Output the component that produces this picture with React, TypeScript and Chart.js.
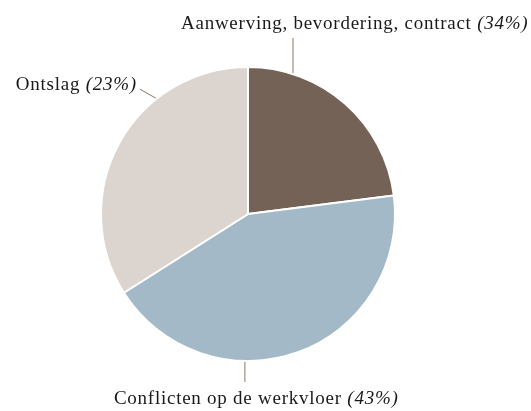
import React, { useEffect, useRef } from "react";
import { Chart, registerables } from "chart.js";

Chart.register(...registerables);

const categories = ["Aanwerving, bevordering, contract", "Conflicten op de werkvloer", "Ontslag"];
const shownPercents = ["(34%)", "(43%)", "(23%)"];
const sliceValues = [23, 43, 34];
const sliceColors = ["#756256", "#a4b9c7", "#dcd4ce"];

const FONT = '"Liberation Serif", "DejaVu Serif", serif';

const labelPlugin = {
  id: "calloutLabels",
  afterDraw(chart: any) {
    const ctx = chart.ctx;
    const meta = chart.getDatasetMeta(0);
    const arc = meta.data[0];
    if (!arc) return;
    const cx = arc.x;
    const cy = arc.y;
    const r = arc.outerRadius;
    const opts = chart.options.plugins.calloutLabels;
    ctx.save();
    ctx.strokeStyle = "#8a766a";
    ctx.lineWidth = 1;
    ctx.fillStyle = "#1a1a1a";
    ctx.textBaseline = "alphabetic";
    (ctx as any).letterSpacing = opts.spacing + "px";
    opts.items.forEach((c: any) => {
      const a = (c.angle * Math.PI) / 180;
      const sx = cx + (r + 1) * Math.sin(a);
      const sy = cy - (r + 1) * Math.cos(a);
      const ex = sx + c.dx;
      const ey = sy + c.dy;
      ctx.beginPath();
      ctx.moveTo(sx, sy);
      ctx.lineTo(ex, ey);
      ctx.stroke();
      const name = categories[c.index] + " ";
      const pct = shownPercents[c.index];
      ctx.font = `${opts.size}px ${FONT}`;
      const w1 = ctx.measureText(name).width;
      ctx.font = `italic ${opts.size}px ${FONT}`;
      const w2 = ctx.measureText(pct).width;
      const total = w1 + w2;
      let x0 = ex + c.tx;
      if (c.align === "right") x0 = ex + c.tx - total;
      const y0 = ey + c.ty;
      ctx.textAlign = "left";
      ctx.font = `${opts.size}px ${FONT}`;
      ctx.fillText(name, x0, y0);
      ctx.font = `italic ${opts.size}px ${FONT}`;
      ctx.fillText(pct, x0 + w1, y0);
    });
    ctx.restore();
  },
};

export default function App() {
  const ref = useRef<HTMLCanvasElement | null>(null);
  useEffect(() => {
    document.body.style.margin = "0";
    const chart = new Chart(ref.current as HTMLCanvasElement, {
      type: "pie",
      data: {
        labels: categories,
        datasets: [
          {
            data: sliceValues,
            backgroundColor: sliceColors,
            borderColor: "#ffffff",
            borderWidth: 2,
          },
        ],
      },
      options: {
        responsive: false,
        animation: false,
        layout: { padding: { top: 66, bottom: 49, left: 100, right: 135 } },
        plugins: {
          legend: { display: false },
          tooltip: { enabled: false },
          calloutLabels: {
            size: 19,
            spacing: 0.75,
            items: [
              { index: 0, angle: 17.7, dx: 0, dy: -35, tx: -112, ty: -9, align: "left" },
              { index: 2, angle: 321.5, dx: -16, dy: -9, tx: -3, ty: 1, align: "right" },
              { index: 1, angle: 181.2, dx: 0, dy: 20, tx: -131, ty: 22, align: "left" },
            ],
          },
        } as any,
      },
      plugins: [labelPlugin],
    });
    return () => chart.destroy();
  }, []);
  return (
    <div style={{ position: "absolute", left: 0, top: 0, width: 531, height: 411, background: "#fff" }}>
      <canvas ref={ref} width={531} height={411} />
    </div>
  );
}
